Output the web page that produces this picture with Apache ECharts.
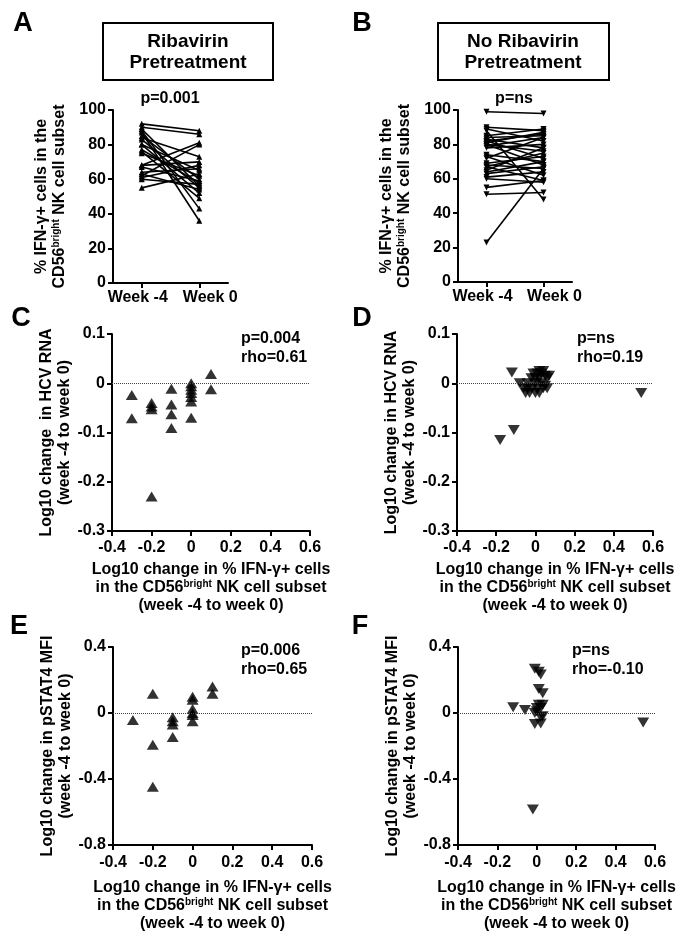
<!DOCTYPE html>
<html><head><meta charset="utf-8">
<script src="https://cdn.jsdelivr.net/npm/echarts@6/dist/echarts.min.js"></script>
<style>html,body{margin:0;padding:0;background:#fff}#c{width:687px;height:944px}</style>
</head><body><div id="c"></div>
<script>
// ---------- data ----------
const weekLabels = ['Week -4', 'Week 0'];
// Panel A (Ribavirin pretreatment): paired % IFN-γ+ values
const aWeekM4 = [92, 90, 89, 88, 87, 85, 84, 83, 80, 80, 77, 76, 75, 68, 68, 67, 64, 63, 62, 61, 60, 55];
const aWeek0  = [88, 86, 56, 43, 36, 60, 73, 55, 65, 52, 58, 49, 62, 70, 81, 59, 66, 54, 80, 68, 57, 63];
// Panel B (No ribavirin pretreatment)
const bWeekM4 = [99, 90, 89, 88, 85, 84, 83, 82, 82, 81, 80, 80, 79, 78, 74, 73, 72, 69, 68, 67, 67, 65, 64, 63, 61, 60, 55, 51, 23];
const bWeek0  = [98, 88, 82, 48, 89, 85, 78, 86, 72, 87, 76, 68, 84, 80, 70, 62, 84, 73, 66, 75, 59, 78, 70, 67, 64, 58, 59, 52, 66];
// Panel C: x = log10 change % IFN-γ+, y = log10 change HCV RNA
const cX = [-0.3, -0.3, -0.2, -0.2, -0.2, -0.2, -0.1, -0.1, -0.1, -0.1, 0, 0, 0, 0, 0, 0, 0, 0.1, 0.1];
const cY = [-0.024, -0.071, -0.04, -0.047, -0.053, -0.23, -0.011, -0.043, -0.063, -0.091, 0.0, -0.006, -0.013, -0.02, -0.028, -0.037, -0.07, 0.019, -0.012];
// Panel D
const dX = [-0.18, -0.11, -0.12, 0.54, -0.08, -0.06, -0.05, -0.04, -0.04, -0.03, -0.02, -0.02, -0.01, 0.0, 0.0, 0.0, 0.01, 0.01, 0.02, 0.02, 0.02, 0.03, 0.03, 0.04, 0.04, 0.05, 0.05, 0.06, 0.06, 0.07];
const dY = [-0.115, -0.095, 0.022, -0.02, 0.0, -0.01, -0.02, 0.0, -0.01, -0.02, 0.01, -0.01, 0.02, -0.02, 0.0, 0.01, 0.02, -0.01, 0.01, -0.02, 0.025, 0.02, 0.0, 0.025, -0.01, 0.015, -0.005, 0.01, -0.01, 0.015];
// Panel E: y = log10 change pSTAT4 MFI
const eX = [-0.3, -0.2, -0.2, -0.2, -0.1, -0.1, -0.1, -0.1, 0, 0, 0, 0, 0, 0, 0.1, 0.1];
const eY = [-0.043, 0.116, -0.193, -0.447, -0.025, -0.05, -0.07, -0.145, 0.098, 0.08, 0.025, 0.0, -0.012, -0.05, 0.16, 0.116];
// Panel F
const fX = [-0.12, -0.06, -0.02, 0.54, -0.01, 0.01, 0.02, 0.01, 0.03, 0.01, 0.03, 0.0, -0.01, 0.02, 0.03, -0.01, 0.02, 0.0, 0.02];
const fY = [0.035, 0.018, -0.585, -0.057, 0.268, 0.25, 0.233, 0.146, 0.12, 0.05, 0.05, 0.03, 0.0, -0.026, -0.02, -0.067, -0.063, 0.01, 0.03];

const yTicksAB = [0, 20, 40, 60, 80, 100];
const pTexts = ['p=0.001', 'p=ns', 'p=0.004\nrho=0.61', 'p=ns\nrho=0.19', 'p=0.006\nrho=0.65', 'p=ns\nrho=-0.10'];

// ---------- styling ----------
const FF = '"Liberation Sans", Arial, sans-serif';
const richName = {
  n: { fontSize: 16, fontWeight: 'bold', fontFamily: FF, color: '#000', lineHeight: 18 },
  s: { fontSize: 10, fontWeight: 'bold', fontFamily: FF, color: '#000', verticalAlign: 'top', lineHeight: 18 }
};
const pctName = '{n|% IFN-γ+ cells in the}\n{n|CD56}{s|bright}{n| NK cell subset}';
const xScatName = '{n|Log10 change in % IFN-γ+ cells}\n{n|in the CD56}{s|bright}{n| NK cell subset}\n{n|(week -4 to week 0)}';

function baseAxis(extra) {
  return Object.assign({
    axisLine: { show: true, onZero: false, lineStyle: { color: '#000', width: 2 } },
    axisTick: { show: true, length: 5, lineStyle: { color: '#000', width: 2 } },
    axisLabel: { color: '#000', fontSize: 16, fontWeight: 'bold', fontFamily: FF, margin: 7 },
    splitLine: { show: false },
    nameTextStyle: { rich: richName }
  }, extra);
}

const grids = [
  { left: 113, top: 110, width: 115, height: 173 },
  { left: 458, top: 110, width: 114, height: 172 },
  { left: 112, top: 334, width: 198, height: 197 },
  { left: 457, top: 334, width: 196, height: 197 },
  { left: 113, top: 647, width: 199, height: 198 },
  { left: 458, top: 647, width: 197, height: 198 }
];

const labelPads = [[0, 8, 0, 0], [0, 0, 0, 22]];
const weekCats = weekLabels.map((w, i) => ({ value: w, textStyle: { padding: labelPads[i] } }));

const xAxes = [], yAxes = [];
for (let i = 0; i < 2; i++) {
  xAxes.push(baseAxis({ type: 'category', gridIndex: i, data: weekCats, boundaryGap: true,
    axisTick: { show: true, alignWithLabel: true, length: 5, lineStyle: { color: '#000', width: 2 } },
    axisLabel: { color: '#000', fontSize: 16, fontWeight: 'bold', fontFamily: FF, margin: 7, interval: 0, hideOverlap: false } }));
  yAxes.push(baseAxis({ type: 'value', gridIndex: i, min: yTicksAB[0], max: yTicksAB[yTicksAB.length - 1], interval: 20,
    name: pctName, nameLocation: 'middle', nameRotate: 90, nameGap: 44 }));
}
const yRanges = [[-0.3, 0.1, 0.1], [-0.3, 0.1, 0.1], [-0.8, 0.4, 0.4], [-0.8, 0.4, 0.4]];
const yNames = [
  '{n|Log10 change  in HCV RNA}\n{n|(week -4 to week 0)}',
  '{n|Log10 change in HCV RNA}\n{n|(week -4 to week 0)}',
  '{n|Log10 change in pSTAT4 MFI}\n{n|(week -4 to week 0)}',
  '{n|Log10 change in pSTAT4 MFI}\n{n|(week -4 to week 0)}'
];
const xGaps = [30, 30, 34, 34];
const xMargins = [9, 9, 10, 10];
for (let k = 0; k < 4; k++) {
  const gi = k + 2;
  xAxes.push(baseAxis({ type: 'value', gridIndex: gi, min: -0.4, max: 0.6, interval: 0.2,
    name: xScatName, nameLocation: 'middle', nameGap: xGaps[k],
    axisLabel: { color: '#000', fontSize: 16, fontWeight: 'bold', fontFamily: FF, margin: xMargins[k] } }));
  yAxes.push(baseAxis({ type: 'value', gridIndex: gi, min: yRanges[k][0], max: yRanges[k][1], interval: yRanges[k][2],
    name: yNames[k], nameLocation: 'middle', nameRotate: 90, nameGap: 38 }));
}

const series = [];
function pairSeries(pre, post, idx, rot) {
  for (let i = 0; i < pre.length; i++) {
    series.push({ type: 'line', xAxisIndex: idx, yAxisIndex: idx, data: [pre[i], post[i]],
      symbol: 'triangle', symbolSize: 6, symbolRotate: rot, showSymbol: true,
      lineStyle: { color: '#000', width: 1.6 }, itemStyle: { color: '#000' }, silent: true });
  }
}
pairSeries(aWeekM4, aWeek0, 0, 0);
pairSeries(bWeekM4, bWeek0, 1, 180);

function scatter(xs, ys, idx, rot) {
  series.push({ type: 'scatter', xAxisIndex: idx, yAxisIndex: idx,
    data: xs.map((x, i) => [x, ys[i]]), symbol: 'triangle', symbolSize: [12, 10], symbolRotate: rot,
    itemStyle: { color: '#000' },
    markLine: { silent: true, symbol: 'none', label: { show: false },
      lineStyle: { color: '#444', type: 'dotted', width: 1 }, data: [{ yAxis: 0 }] } });
}
scatter(cX, cY, 2, 0);
scatter(dX, dY, 3, 180);
scatter(eX, eY, 4, 0);
scatter(fX, fY, 5, 180);

function txt(s, x, y, size, align) {
  return { type: 'text', x: x, y: y, style: { text: s, font: 'bold ' + size + 'px ' + FF, fill: '#000',
    textAlign: align || 'center', textVerticalAlign: 'middle', lineHeight: 19 } };
}
const graphic = [
  txt('A', 23, 24, 27), txt('B', 362, 24, 27), txt('C', 21, 319, 27),
  txt('D', 362, 319, 27), txt('E', 19, 627, 27), txt('F', 360, 627, 27),
  { type: 'rect', shape: { x: 103, y: 23, width: 170, height: 57 }, style: { fill: 'none', stroke: '#000', lineWidth: 2 } },
  { type: 'rect', shape: { x: 438, y: 23, width: 171, height: 57 }, style: { fill: 'none', stroke: '#000', lineWidth: 2 } },
  txt('Ribavirin', 188, 42, 19), txt('Pretreatment', 188, 63, 19),
  txt('No Ribavirin', 523, 42, 19), txt('Pretreatment', 523, 63, 19),
  txt(pTexts[0], 170, 99, 16), txt(pTexts[1], 514, 99, 16),
  txt(pTexts[2], 241, 348, 16, 'left'), txt(pTexts[3], 577, 348, 16, 'left'),
  txt(pTexts[4], 241, 660, 16, 'left'), txt(pTexts[5], 572, 660, 16, 'left')
];

const chart = echarts.init(document.getElementById('c'), null, { renderer: 'canvas' });
chart.setOption({
  animation: false,
  backgroundColor: '#fff',
  grid: grids,
  xAxis: xAxes,
  yAxis: yAxes,
  series: series,
  graphic: graphic
});
</script>
</body></html>
